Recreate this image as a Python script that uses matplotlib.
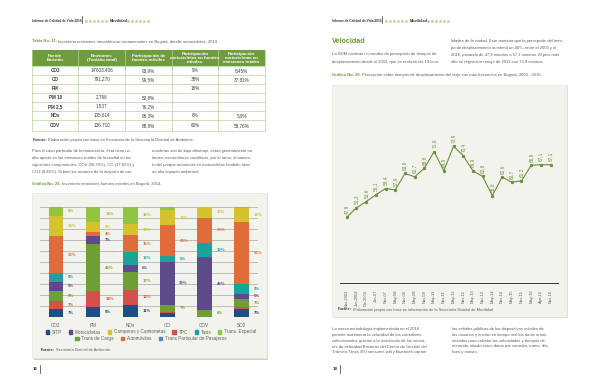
import numpy as np
import matplotlib
matplotlib.use("Agg")
import matplotlib.pyplot as plt
from matplotlib import font_manager
from matplotlib.patches import Rectangle, Patch

# ============================================
# DATOS - Gráfica No. 28 (participación %, fuentes móviles 2014)
# ============================================
contaminantes = ["CO2", "PM", "NOx", "CO", "COV", "SO2"]
sitp   = [7, 9, 11, 3, 0, 7]
tpc    = [7, 14, 13, 1, 0, 2]
carga  = [9, 43, 17, 7, 6, 7]
motos  = [9, 7, 6, 39, 48, 5]
taxis  = [8, 0, 12, 5, 13, 9]
autos  = [33, 4, 15, 28, 23, 56]
camper = [19, 9, 10, 14, 10, 13]
espec  = [8, 14, 16, 3, 0, 1]
tpp    = [0, 0, 0, 0, 0, 0]

# DATOS - Gráfica No. 29 (minutos)
periodos = ["Nov-2003", "Jun-2004", "Dic-2004", "Jun-07", "Nov-07", "May-08",
            "Nov-08", "May-09", "Nov-09", "May-11", "Nov-11", "May-12",
            "Nov-12", "May-13", "Nov-13", "May-14", "Nov-14", "May-15",
            "Nov-15", "May-16", "Ago-16", "Nov-16"]
minutos = [47.9, 51.3, 53.6, 56.1, 58.4, 57.9, 63.9, 62.7, 65.8, 71.9, 64.9,
           73.9, 70.4, 64.9, 62.8, 55.8, 62.6, 60.7, 61.2, 66.9, 67.1, 67.1]

# DATOS - Tabla No. 11
tabla_cols = ["Fuente\nEmisión", "Emisiones\n(Ton/año total)",
              "Participación de\nfuentes móviles",
              "Participación\nmotocicletas en fuentes\nmóviles",
              "Participación\nmotocicletas en\nemisiones totales"]
tabla_fuente = ["CO2", "CO", "PM", "PM 10", "PM 2,5", "NOx", "COV"]
tabla_emis   = ["14'603.406", "791.270", "", "2.766", "1.537", "105.614", "136.710"]
tabla_pmov   = ["93,9%", "99,5%", "", "53,8%", "76,2%", "96,3%", "88,8%"]
tabla_pmoto  = ["9%", "38%", "18%", "", "", "6%", "60%"]
tabla_ptot   = ["8,45%", "37,81%", "", "", "", "5,9%", "58,76%"]

# ============================================
# ESTILO
# ============================================
nombres = {f.name for f in font_manager.fontManager.ttflist}
if "Liberation Sans Narrow" in nombres:
    FUENTE, BODY = "Liberation Sans Narrow", 3.6
else:
    FUENTE, BODY = "Liberation Sans", 3.0
plt.rcParams["font.family"] = [FUENTE, "DejaVu Sans"]

GRIS = "#5c5c5c"
VERDE = "#6e9b32"
colores = {
    "SITP": "#1d4f85",
    "Motocicletas": "#5d4a8c",
    "Camperos y Camionetas": "#d6c22c",
    "TPC": "#d6504b",
    "Taxis": "#1aa39a",
    "Trans. Especial": "#93c43e",
    "Trans de Carga": "#6f9e34",
    "Automóviles": "#e06c3c",
    "Trans Particular de Pasajeros": "#4f86c6",
}

W, H = 600, 388
fig = plt.figure(figsize=(6, 3.88), dpi=100)
fig.patch.set_facecolor("white")
bg = fig.add_axes([0, 0, 1, 1])
bg.set_xlim(0, W)
bg.set_ylim(H, 0)
bg.axis("off")
renderer = fig.canvas.get_renderer()


def px_axes(x0, y0, x1, y1):
    return fig.add_axes([x0 / W, 1 - y1 / H, (x1 - x0) / W, (y1 - y0) / H])


def t(x, y, s, size=BODY, color=GRIS, weight="normal", ha="left", **kw):
    return bg.text(x, y, s, fontsize=size, color=color, fontweight=weight,
                   ha=ha, va="center", **kw)


def rich(x, y, partes, size=BODY):
    for s, c, w in partes:
        obj = t(x, y, s, size, c, w)
        x += obj.get_window_extent(renderer).width + 1.2


def cabecera(x0):
    t(x0, 21, "Informe de Calidad de Vida 2016", 2.35, "#333333", "bold")
    bg.plot([x0 + 49.5, x0 + 49.5], [15.5, 23], color="#333333", lw=0.5)
    bg.plot(x0 + 54 + np.arange(6) * 4, [21] * 6, "o", ms=2.2, color="#cdd9a2", mew=0)
    t(x0 + 78, 21, "Movilidad", 2.8, "#333333", "bold")
    bg.plot(x0 + 96 + np.arange(6) * 4, [21] * 6, "o", ms=2.2, color="#cdd9a2", mew=0)


def caja(x0, y0, x1, y1):
    bg.add_patch(Rectangle((x0 + 1.5, y0 + 1.5), x1 - x0, y1 - y0, color="#cfcfcc", lw=0))
    bg.add_patch(Rectangle((x0, y0), x1 - x0, y1 - y0, facecolor="#f3f3ee",
                           edgecolor="#e2e2dc", lw=0.4))


def pagina(x0, num):
    t(x0, 369.5, num, 3.2, "#333333", "bold")
    bg.plot([x0 + 7.3, x0 + 7.3], [365, 373], color="#333333", lw=0.5)


def parrafo(x0, ys, lineas):
    for y, s in zip(ys, lineas):
        t(x0, y, s)


# ============================================
# PÁGINA IZQUIERDA
# ============================================
cabecera(32)
rich(32.3, 41.5, [("Tabla No. 11.", VERDE, "bold"),
                  ("Inventario emisiones atmosféricas contaminantes en Bogotá, detalle motocicletas, 2014.", GRIS, "normal")])

col_x = [32.3, 78.3, 125.3, 171.7, 218.3, 265]
fila_y = [66, 75, 83.7, 92.7, 102, 111, 120.3, 130.7]
bg.add_patch(Rectangle((col_x[0], 50), col_x[-1] - col_x[0], 16, color="#6f9c3d", lw=0))
for j, s in enumerate(tabla_cols):
    bg.text((col_x[j] + col_x[j + 1]) / 2, 58, s, fontsize=3.2, color="white",
            fontweight="bold", ha="center", va="center", linespacing=1.0)
for xv in col_x:
    bg.plot([xv, xv], [50, fila_y[-1]], color="#b9cfa0", lw=0.5)
for yv in fila_y:
    bg.plot([col_x[0], col_x[-1]], [yv, yv], color="#b9cfa0", lw=0.5)
columnas = [tabla_fuente, tabla_emis, tabla_pmov, tabla_pmoto, tabla_ptot]
for j, col in enumerate(columnas):
    for i, s in enumerate(col):
        t((col_x[j] + col_x[j + 1]) / 2, (fila_y[i] + fila_y[i + 1]) / 2, s, 3.3,
          "#3c3c3c", "bold" if j == 0 else "normal", ha="center")

rich(32.3, 140, [("Fuente:", "#3c3c3c", "bold"),
                 ("Elaboración propia con base en Inventario de la Secretaría Distrital de Ambiente.", GRIS, "normal")], 3.0)

parrafo(32.3, [151, 158, 164.8, 171.6], [
    "Para el caso particular de la motocicleta, ésta tiene un",
    "alto aporte en las emisiones totales de la ciudad en los",
    "siguientes componentes: COV (58,76%), CO (37,81%) y",
    "CO2 (8,45%). Si bien los motores de la mayoría de mo-"])
parrafo(152, [151, 158, 164.8, 171.6], [
    "tocicletas son de bajo cilindraje, estas generalmente no",
    "tienen convertidores catalíticos, por lo tanto, el aumen-",
    "to del parque automotor en motocicletas también tiene",
    "un alto impacto ambiental."])

rich(32.3, 184.3, [("Gráfica No. 28.", VERDE, "bold"),
                   ("Inventario emisiones fuentes móviles en Bogotá, 2014.", GRIS, "normal")])
caja(32.3, 193.3, 266.5, 358)

axb = px_axes(40, 206.7, 258, 316.7)
axb.set_facecolor("none")
x = np.arange(len(contaminantes))
base = np.zeros(len(contaminantes))
pila = [("SITP", sitp), ("TPC", tpc), ("Trans de Carga", carga), ("Motocicletas", motos),
        ("Taxis", taxis), ("Automóviles", autos), ("Camperos y Camionetas", camper),
        ("Trans. Especial", espec), ("Trans Particular de Pasajeros", tpp)]
for nombre, vals in pila:
    vals = np.array(vals, dtype=float)
    axb.bar(x, vals, 0.4, bottom=base, color=colores[nombre], linewidth=0, zorder=2)
    for i, v in enumerate(vals):
        if v >= 4:
            axb.text(i + 0.33, base[i] + v / 2, f"{v:.0f}%", fontsize=3.1,
                     color=colores[nombre], fontweight="bold", ha="left", va="center")
    base += vals
axb.set_ylim(0, 100)
axb.set_xlim(-0.43, 5.45)
axb.set_yticks(np.arange(0, 101, 10))
axb.yaxis.grid(True, color="#9c9c9c", lw=0.45)
axb.set_axisbelow(True)
axb.set_xticks(x, contaminantes)
axb.tick_params(left=False, labelleft=False, bottom=False, labelsize=3.3,
                labelcolor=GRIS, pad=1.0)
for s in axb.spines.values():
    s.set_visible(False)

fila1 = ["SITP", "Motocicletas", "Camperos y Camionetas", "TPC", "Taxis", "Trans. Especial"]
fila2 = ["Trans de Carga", "Automóviles", "Trans Particular de Pasajeros"]
for fila, yy in [(fila1, 332), (fila2, 338.6)]:
    fig.legend([Patch(color=colores[n]) for n in fila], fila, loc="center",
               bbox_to_anchor=(151 / W, 1 - yy / H), ncol=len(fila), frameon=False,
               fontsize=3.3, handlelength=0.7, handleheight=0.7, handletextpad=0.6,
               columnspacing=1.5, borderpad=0, labelcolor=GRIS)

rich(41, 350, [("Fuente:", "#3c3c3c", "bold"),
               ("Secretaría Distrital de Ambiente.", GRIS, "normal")], 2.8)
pagina(32.3, "16")

# ============================================
# PÁGINA DERECHA
# ============================================
cabecera(332)
t(332.3, 41.7, "Velocidad", 5.2, VERDE, "bold")
parrafo(332.3, [54, 62.5], [
    "La SDM contrata un sondeo de percepción de tiempos de",
    "desplazamiento desde el 2003, que se realizan las 19 loca-"])
parrafo(450.7, [41, 47.8, 55, 62.5], [
    "lidades de la ciudad. Este muestra que la percepción del tiem-",
    "po de desplazamiento aumentó un 40%, entre el 2003 y el",
    "2016, pasando de 47,9 minutos a 67,1 minutos. El pico más",
    "alto se registró en mayo de 2012 con 73,9 minutos."])

rich(332.3, 75, [("Gráfica No. 29.", VERDE, "bold"),
                 ("Percepción sobre tiempos de desplazamiento del viaje con más frecuencia en Bogotá, 2003 - 2016.", GRIS, "normal")])
caja(332.3, 85, 566.5, 316.7)

axl = px_axes(340, 100, 558.3, 283.3)
axl.set_facecolor("none")
xi = np.arange(len(minutos))
axl.plot(xi, minutos, color="#6b8f3a", lw=0.8, marker="o", ms=1.4, zorder=3)
for i, v in zip(xi, minutos):
    axl.annotate(f"{v:.1f}".replace(".", ","), (i, v), xytext=(0, 2.5),
                 textcoords="offset points", rotation=90, ha="center", va="bottom",
                 fontsize=3.4, color="#6b8f3a")
axl.set_xlim(-0.69, 21.79)
axl.set_ylim(23.7, 90.8)
axl.set_yticks([])
axl.set_xticks(xi, periodos, rotation=90)
axl.tick_params(bottom=False, labelsize=2.9, labelcolor=GRIS, pad=1.2)
for k, s in axl.spines.items():
    s.set_visible(k == "bottom")
axl.spines["bottom"].set_color("#333333")
axl.spines["bottom"].set_linewidth(0.7)

rich(338, 309.5, [("Fuente:", "#3c3c3c", "bold"),
                  ("Elaboración propia con base en información de la Secretaría Distrital de Movilidad", GRIS, "normal")], 2.8)

ys = [329.3, 335, 340.7, 346.5, 352.2]
parrafo(332.3, ys, [
    "La nueva metodología implementada en el 2016",
    "permite monitorear la velocidad de los corredores",
    "seleccionados gracias a la instalación de los senso-",
    "res de velocidad Bitcarrier del Centro de Gestión del",
    "Tránsito. Unos 350 sensores wifi y bluetooth captan"])
parrafo(452, ys, [
    "las señales públicas de los dispositivos móviles de",
    "los usuarios y envían en tiempo real los datos anoni-",
    "mizados para calcular las velocidades y tiempos de",
    "recorrido, dando estos datos por corredor, tramo, día,",
    "hora y minuto."])
pagina(332.3, "18")

fig.savefig("out.png", dpi=100, facecolor="white")
